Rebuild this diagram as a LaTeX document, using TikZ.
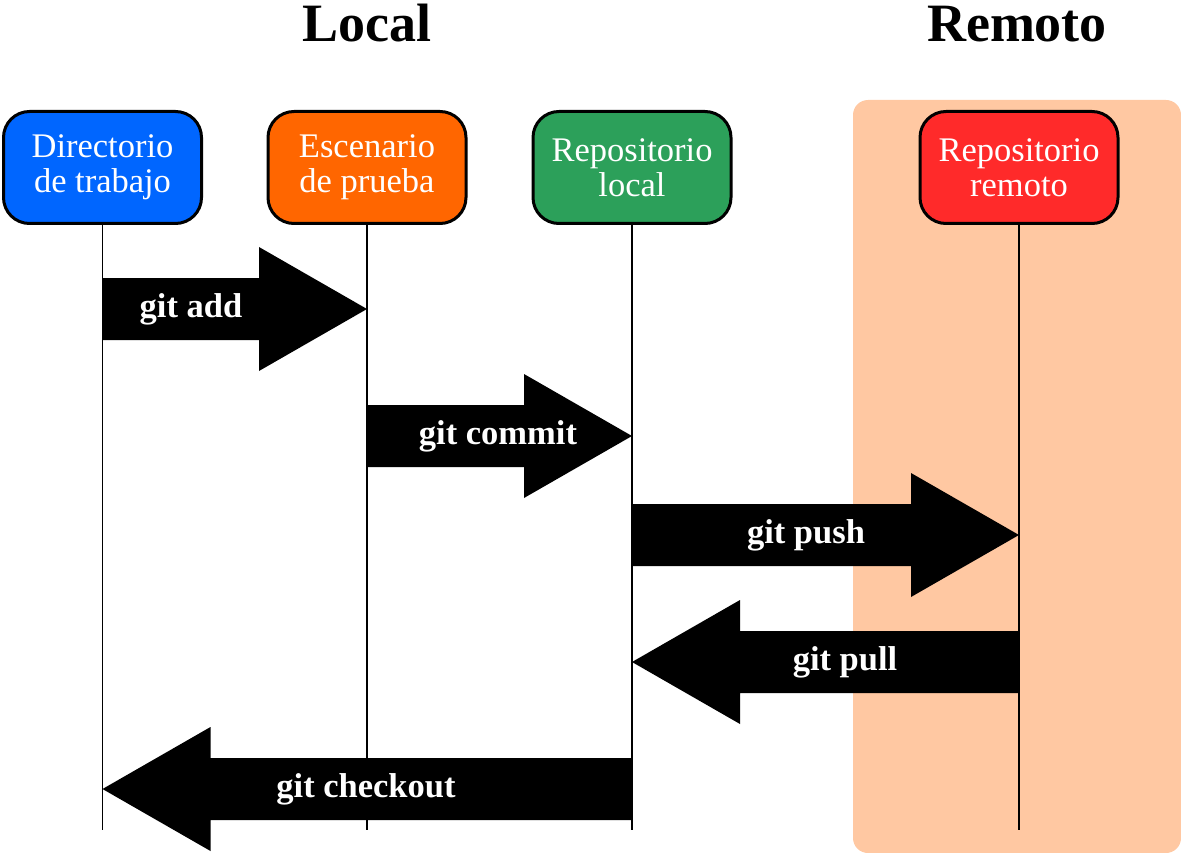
\documentclass[tikz,border=0pt]{standalone}
\usepackage{fontspec}
\setmainfont{Liberation Serif}
\usetikzlibrary{calc}
\definecolor{dirblue}{HTML}{0066FF}
\definecolor{stageorange}{HTML}{FF6600}
\definecolor{localgreen}{HTML}{2CA05A}
\definecolor{remotered}{HTML}{FF2A2A}
\definecolor{remotebg}{HTML}{FFC8A2}
\newcommand{\gitarrow}[2]{%
  \fill let \p1=(#1), \p2=(#2), \n1={sign(\x2-\x1)} in
    (\x1,\y1+31pt) -- (\x2-\n1*108pt,\y1+31pt) -- (\x2-\n1*108pt,\y1+62pt) -- (\p2)
    -- (\x2-\n1*108pt,\y1-62pt) -- (\x2-\n1*108pt,\y1-31pt) -- (\x1,\y1-31pt) -- cycle;}
\begin{document}
\begin{tikzpicture}[x=1pt,y=1pt,
  box/.style={draw,line width=3pt,rounded corners=26pt,minimum width=198pt,minimum height=112pt,
    text=white,align=center,font=\fontsize{34.5}{35}\selectfont},
  cmd/.style={text=white,font=\fontsize{34.5}{40}\selectfont\bfseries},
  title/.style={anchor=base,font=\fontsize{54}{60}\selectfont\bfseries}]
\useasboundingbox (0,0) rectangle (1181,-853);
\fill[remotebg,rounded corners=15pt] (853,-100) rectangle (1181,-853);
\node[title] (localt) at (367,-42) {Local};
\node[title] (remotet) at (1017,-42) {Remoto};
\node[box,fill=dirblue] (wd) at (102.5,-167.5) {Directorio\\de trabajo};
\node[box,fill=stageorange] (stage) at (367,-167.5) {Escenario\\de prueba};
\node[box,fill=localgreen] (lrepo) at (632,-167.5) {Repositorio\\local};
\node[box,fill=remotered] (rrepo) at (1019,-167.5) {Repositorio\\remoto};
\foreach \n in {wd,stage,lrepo,rrepo}{
  \coordinate (\n end) at (\n.south |- 0,-830);
  \draw[line width=1.2pt] (\n.south) -- (\n end);
}
\coordinate (r1) at (0,-309);
\coordinate (r2) at (0,-436);
\coordinate (r3) at (0,-535);
\coordinate (r4) at (0,-662);
\coordinate (r5) at (0,-789);
\gitarrow{wd |- r1}{stage |- r1}
\gitarrow{stage |- r2}{lrepo |- r2}
\gitarrow{lrepo |- r3}{rrepo |- r3}
\gitarrow{rrepo |- r4}{lrepo |- r4}
\gitarrow{lrepo |- r5}{wd |- r5}
\node[cmd] (add) at (191,-309) {git add};
\node[cmd] (commit) at (498,-436) {git commit};
\node[cmd] (push) at (806,-535) {git push};
\node[cmd] (pull) at (845,-662) {git pull};
\node[cmd] (checkout) at (366,-789) {git checkout};
\end{tikzpicture}
\end{document}
